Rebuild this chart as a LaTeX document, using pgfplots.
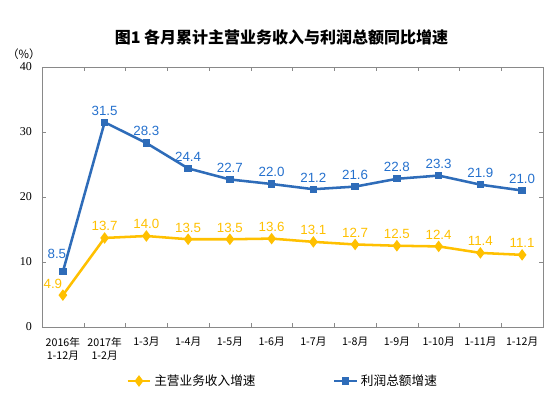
\documentclass[border=0pt]{standalone}
\usepackage{pgfplots}
\pgfplotsset{compat=1.18}
\usepackage{fontspec}
\setmainfont{Liberation Sans}
\newfontfamily\cjk{Noto Sans CJK SC}
\newfontfamily\serifnum{Liberation Serif}
\definecolor{myblue}{RGB}{46,108,185}
\definecolor{labblue}{RGB}{36,112,205}
\definecolor{myorange}{RGB}{255,192,0}
\definecolor{axgray}{RGB}{137,137,137}
\begin{document}
\begin{tikzpicture}[x=1pt,y=1pt]
\useasboundingbox (-31.5,-52.5) rectangle (381,245.25);
\begin{axis}[
  at={(0,0)}, anchor=south west, scale only axis,
  width=375.75pt, height=195pt,
  xmin=-0.5, xmax=11.5, ymin=0, ymax=40,
  /pgf/number format/assume math mode=true,
  ytick={0,10,20,30,40},
  xtick={0,...,11},
  xticklabels={{2016年\\1-12月},{2017年\\1-2月},1-3月,1-4月,1-5月,1-6月,1-7月,1-8月,1-9月,1-10月,1-11月,1-12月},
  minor xtick={0.5,1.5,...,10.5},
  major x tick style={draw=none},
  minor x tick style={axgray},
  ytick style={axgray},
  tick align=inside,
  major tick length=3pt, minor tick length=3pt,
  axis line style={axgray},
  yticklabel style={font=\serifnum\fontsize{9}{10}\selectfont, xshift=-4pt},
  xticklabel style={font=\cjk\fontsize{8}{10}\selectfont, align=center, yshift=-4pt},
  legend style={at={(rel axis cs:0.481,-0.2077)}, anchor=center, draw=none, fill=none,
    legend columns=2, font=\cjk\fontsize{9.5}{11}\selectfont,
    /tikz/every even column/.append style={column sep=56pt}},
  legend cell align=left,
  clip=false,
]
\addplot[myorange, line width=1.9pt, mark=diamond*, mark size=2.8pt, mark options={solid}]
  coordinates {(0,4.9)(1,13.7)(2,14.0)(3,13.5)(4,13.5)(5,13.6)(6,13.1)(7,12.7)(8,12.5)(9,12.4)(10,11.4)(11,11.1)};
\addlegendentry{主营业务收入增速}
\addplot[myblue, line width=1.9pt, mark=square*, mark size=1.8pt, mark options={solid}]
  coordinates {(0,8.5)(1,31.5)(2,28.3)(3,24.4)(4,22.7)(5,22.0)(6,21.2)(7,21.6)(8,22.8)(9,23.3)(10,21.9)(11,21.0)};
\addlegendentry{利润总额增速}
% data labels
\addplot[forget plot, draw=none, mark=none, point meta=y,
  nodes near coords={\pgfmathprintnumber[fixed,fixed zerofill,precision=1]{\pgfplotspointmeta}},
  every node near coord/.append style={myorange, font=\fontsize{10}{12}\selectfont, inner sep=1pt, yshift=4pt}]
  coordinates {(1,13.7)(2,14.0)(3,13.5)(4,13.5)(5,13.6)(6,13.1)(7,12.7)(8,12.5)(9,12.4)(10,11.4)(11,11.1)};
\addplot[forget plot, draw=none, mark=none, point meta=y,
  nodes near coords={\pgfmathprintnumber[fixed,fixed zerofill,precision=1]{\pgfplotspointmeta}},
  every node near coord/.append style={myorange, font=\fontsize{10}{12}\selectfont, inner sep=1pt, xshift=-7.5pt, yshift=4pt}]
  coordinates {(0,4.9)};
\addplot[forget plot, draw=none, mark=none, point meta=y,
  nodes near coords={\pgfmathprintnumber[fixed,fixed zerofill,precision=1]{\pgfplotspointmeta}},
  every node near coord/.append style={labblue, font=\fontsize{10}{12}\selectfont, inner sep=1pt, yshift=4pt}]
  coordinates {(1,31.5)(2,28.3)(3,24.4)(4,22.7)(5,22.0)(6,21.2)(7,21.6)(8,22.8)(9,23.3)(10,21.9)(11,21.0)};
\addplot[forget plot, draw=none, mark=none, point meta=y,
  nodes near coords={\pgfmathprintnumber[fixed,fixed zerofill,precision=1]{\pgfplotspointmeta}},
  every node near coord/.append style={labblue, font=\fontsize{10}{12}\selectfont, inner sep=1pt, xshift=-4.5pt, yshift=9pt}]
  coordinates {(0,8.5)};
\node[font=\cjk\bfseries\fontsize{12}{14}\selectfont] at (rel axis cs:0.478,1.115) {图1\ 各月累计主营业务收入与利润总额同比增速};
\node[font=\cjk\fontsize{8.5}{10}\selectfont] at (rel axis cs:-0.036,1.05) {（\%）};
\end{axis}
\end{tikzpicture}
\end{document}
